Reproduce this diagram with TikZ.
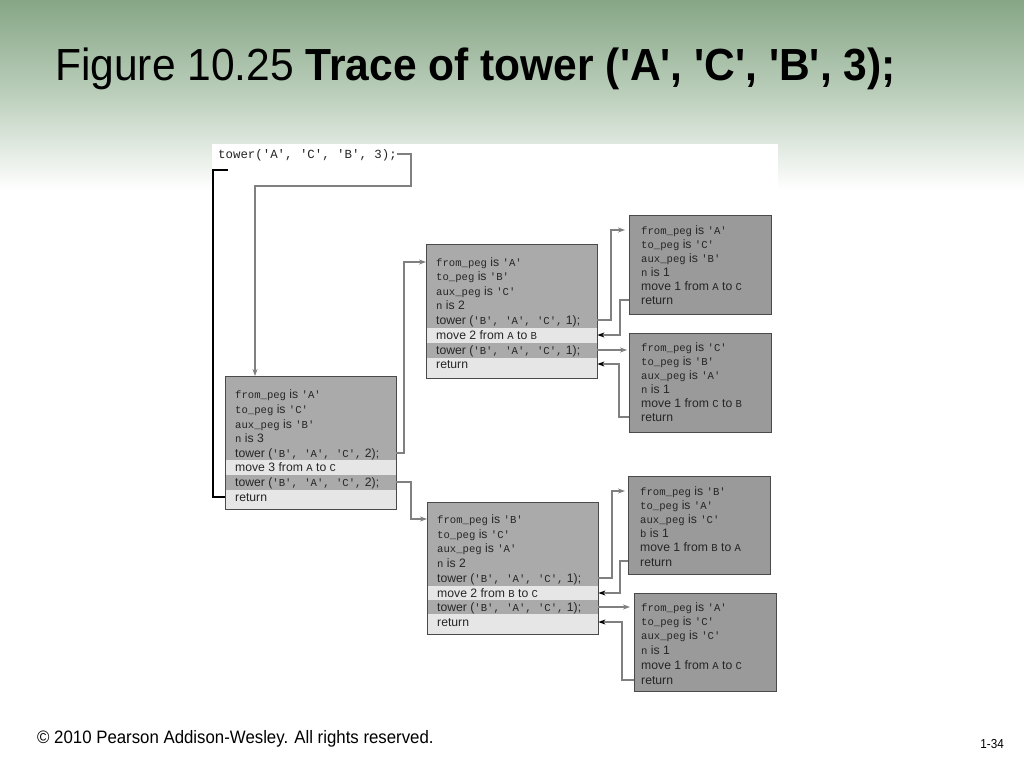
\documentclass[tikz,border=0pt]{standalone}
\usepackage{fontspec}
\newfontfamily\arial{Liberation Sans}
\newfontfamily\cour{Liberation Mono}
\usetikzlibrary{arrows.meta}
\definecolor{dk}{HTML}{AAAAAA}
\definecolor{lf}{HTML}{9A9A9A}
\definecolor{lt}{HTML}{E6E6E6}
\definecolor{bd}{HTML}{4A4A4A}
\definecolor{cn}{HTML}{808080}
\definecolor{gtop}{HTML}{86A686}
\definecolor{gmid}{HTML}{BCCFBC}
\definecolor{mtx}{HTML}{262626}
\newcommand\mf{\cour\fontsize{10.6}{14}\selectfont}
\newcommand\vr[1]{{\mf #1}}
\tikzset{
  lvbox/.style={fill=dk, minimum width=171pt, minimum height=133pt, anchor=north west, inner sep=0pt},
  lfbox/.style={fill=lf, minimum width=142pt, minimum height=99pt, anchor=north west, inner sep=0pt},
  frame/.style={draw=bd, line width=0.9pt},
  ln/.style={anchor=base west, inner sep=0pt, text=mtx, font=\arial\fontsize{12.2}{14}\selectfont},
  go/.style={draw=cn, line width=1.1pt, -{Stealth[length=7pt,width=5pt,color=cn]}},
  back/.style={draw=cn, line width=1.1pt, -{Stealth[length=7pt,width=5pt,color=black]}},
  ret/.style={draw=black, line width=1.8pt},
}
\begin{document}
\begin{tikzpicture}[x=1pt,y=-1pt]
\useasboundingbox (0,0) rectangle (1024,768);
\fill[white] (0,0) rectangle (1024,768);
\shade[top color=gtop, bottom color=gmid] (0,0) rectangle (1024,95);
\shade[top color=gmid, bottom color=white] (0,95) rectangle (1024,190);
\fill[white] (212,144) rectangle (778,200);

\node[anchor=base west, inner sep=0pt, font=\arial\fontsize{45}{54}\selectfont, xscale=0.945] (title) at (55,80) {Figure 10.25 \textbf{Trace of tower ('A', 'C', 'B', 3);}};
\node[anchor=base west, inner sep=0pt, font=\arial\fontsize{18}{20}\selectfont, xscale=0.934] (foot) at (37,743) {\textcopyright\ 2010 Pearson Addison-Wesley. All rights reserved.};
\node[anchor=base east, inner sep=0pt, font=\arial\fontsize{13}{15}\selectfont, xscale=0.9] (page) at (1004,748) {1-34};

\node[anchor=base west, inner sep=0pt, text=mtx, font=\cour\fontsize{12.4}{16}\selectfont] (call) at (218,158) {tower('A', 'C', 'B', 3);};

% ---- level 1
\node[lvbox] (L1) at (225,376) {};
\fill[lt] (225,460) rectangle (396,475);
\fill[lt] (225,490) rectangle (396,509);
\draw[frame] (L1.north west) rectangle (L1.south east);
\node[ln] (L1-1) at (235,398) {\vr{from\_peg} is \vr{'A'}};
\node[ln] (L1-2) at (235,413) {\vr{to\_peg} is \vr{'C'}};
\node[ln] (L1-3) at (235,428) {\vr{aux\_peg} is \vr{'B'}};
\node[ln] (L1-4) at (235,442) {\vr{n} is 3};
\node[ln] (L1-5) at (235,457) {tower (\vr{'B', 'A', 'C',} 2);};
\node[ln] (L1-6) at (235,471) {move 3 from \vr{A} to \vr{C}};
\node[ln] (L1-7) at (235,486) {tower (\vr{'B', 'A', 'C',} 2);};
\node[ln] (L1-8) at (235,501) {return};

% ---- level 2 top
\node[lvbox, minimum width=171pt, minimum height=134pt] (L2a) at (426,244) {};
\fill[lt] (426,328) rectangle (597,343);
\fill[lt] (426,358) rectangle (597,378);
\draw[frame] (L2a.north west) rectangle (L2a.south east);
\node[ln] (L2a-1) at (436,266) {\vr{from\_peg} is \vr{'A'}};
\node[ln] (L2a-2) at (436,280) {\vr{to\_peg} is \vr{'B'}};
\node[ln] (L2a-3) at (436,295) {\vr{aux\_peg} is \vr{'C'}};
\node[ln] (L2a-4) at (436,309) {\vr{n} is 2};
\node[ln] (L2a-5) at (436,324) {tower (\vr{'B', 'A', 'C',} 1);};
\node[ln] (L2a-6) at (436,339) {move 2 from \vr{A} to \vr{B}};
\node[ln] (L2a-7) at (436,354) {tower (\vr{'B', 'A', 'C',} 1);};
\node[ln] (L2a-8) at (436,368) {return};

% ---- level 2 bottom
\node[lvbox, minimum width=171pt, minimum height=132pt] (L2b) at (427,502) {};
\fill[lt] (427,586) rectangle (598,600);
\fill[lt] (427,614) rectangle (598,634);
\draw[frame] (L2b.north west) rectangle (L2b.south east);
\node[ln] (L2b-1) at (437,523) {\vr{from\_peg} is \vr{'B'}};
\node[ln] (L2b-2) at (437,538) {\vr{to\_peg} is \vr{'C'}};
\node[ln] (L2b-3) at (437,552) {\vr{aux\_peg} is \vr{'A'}};
\node[ln] (L2b-4) at (437,567) {\vr{n} is 2};
\node[ln] (L2b-5) at (437,582) {tower (\vr{'B', 'A', 'C',} 1);};
\node[ln] (L2b-6) at (437,597) {move 2 from \vr{B} to \vr{C}};
\node[ln] (L2b-7) at (437,611) {tower (\vr{'B', 'A', 'C',} 1);};
\node[ln] (L2b-8) at (437,626) {return};

% ---- leaves
\node[lfbox] (P1) at (629,215) {};
\draw[frame] (P1.north west) rectangle (P1.south east);
\node[ln] (P1-1) at (641,234) {\vr{from\_peg} is \vr{'A'}};
\node[ln] (P1-2) at (641,248) {\vr{to\_peg} is \vr{'C'}};
\node[ln] (P1-3) at (641,262) {\vr{aux\_peg} is \vr{'B'}};
\node[ln] (P1-4) at (641,276) {\vr{n} is 1};
\node[ln] (P1-5) at (641,290) {move 1 from \vr{A} to \vr{C}};
\node[ln] (P1-6) at (641,304) {return};

\node[lfbox] (P2) at (629,333) {};
\draw[frame] (P2.north west) rectangle (P2.south east);
\node[ln] (P2-1) at (641,351) {\vr{from\_peg} is \vr{'C'}};
\node[ln] (P2-2) at (641,365) {\vr{to\_peg} is \vr{'B'}};
\node[ln] (P2-3) at (641,379) {\vr{aux\_peg} is \vr{'A'}};
\node[ln] (P2-4) at (641,393) {\vr{n} is 1};
\node[ln] (P2-5) at (641,407) {move 1 from \vr{C} to \vr{B}};
\node[ln] (P2-6) at (641,421) {return};

\node[lfbox, minimum height=98pt] (P3) at (628,476) {};
\draw[frame] (P3.north west) rectangle (P3.south east);
\node[ln] (P3-1) at (640,495) {\vr{from\_peg} is \vr{'B'}};
\node[ln] (P3-2) at (640,509) {\vr{to\_peg} is \vr{'A'}};
\node[ln] (P3-3) at (640,523) {\vr{aux\_peg} is \vr{'C'}};
\node[ln] (P3-4) at (640,537) {\vr{b} is 1};
\node[ln] (P3-5) at (640,551) {move 1 from \vr{B} to \vr{A}};
\node[ln] (P3-6) at (640,566) {return};

\node[lfbox, minimum height=98pt] (P4) at (634,593) {};
\draw[frame] (P4.north west) rectangle (P4.south east);
\node[ln] (P4-1) at (641,611) {\vr{from\_peg} is \vr{'A'}};
\node[ln] (P4-2) at (641,625) {\vr{to\_peg} is \vr{'C'}};
\node[ln] (P4-3) at (641,639) {\vr{aux\_peg} is \vr{'C'}};
\node[ln] (P4-4) at (641,654) {\vr{n} is 1};
\node[ln] (P4-5) at (641,669) {move 1 from \vr{A} to \vr{C}};
\node[ln] (P4-6) at (641,684) {return};

% ---- connectors
\coordinate (c1) at (411,186);
\coordinate (c2) at (255,186);
\draw[go] (call.east |- 0,154) -| (c1) -- (c2) -- (c2 |- L1.north);
\coordinate (r1) at (228,170);
\draw[ret] (L1.west |- 0,497) -- (213,497) |- (r1);

\draw[go] (L1.east |- 0,453) -- (404,453) |- (L2a.west |- 0,262);
\draw[go] (L1.east |- 0,482) -- (411,482) |- (L2b.west |- 0,519);

\draw[go] (L2a.east |- 0,320) -- (611,320) |- ([xshift=-4pt]P1.west |- 0,230);
\draw[back] (P1.west |- 0,300) -- (620,300) |- (L2a.east |- 0,335);
\draw[go] (L2a.east |- 0,350) -- ([xshift=-2pt]P2.west |- 0,350);
\draw[back] (P2.west |- 0,417) -- (619,417) |- (L2a.east |- 0,364);

\draw[go] (L2b.east |- 0,578) -- (612,578) |- ([xshift=-3pt]P3.west |- 0,491);
\draw[back] (P3.west |- 0,561) -- (620,561) |- (L2b.east |- 0,593);
\draw[go] (L2b.east |- 0,607) -- ([xshift=-4pt]P4.west |- 0,607);
\draw[back] (P4.west |- 0,680) -- (622,680) |- (L2b.east |- 0,622);
\end{tikzpicture}
\end{document}
